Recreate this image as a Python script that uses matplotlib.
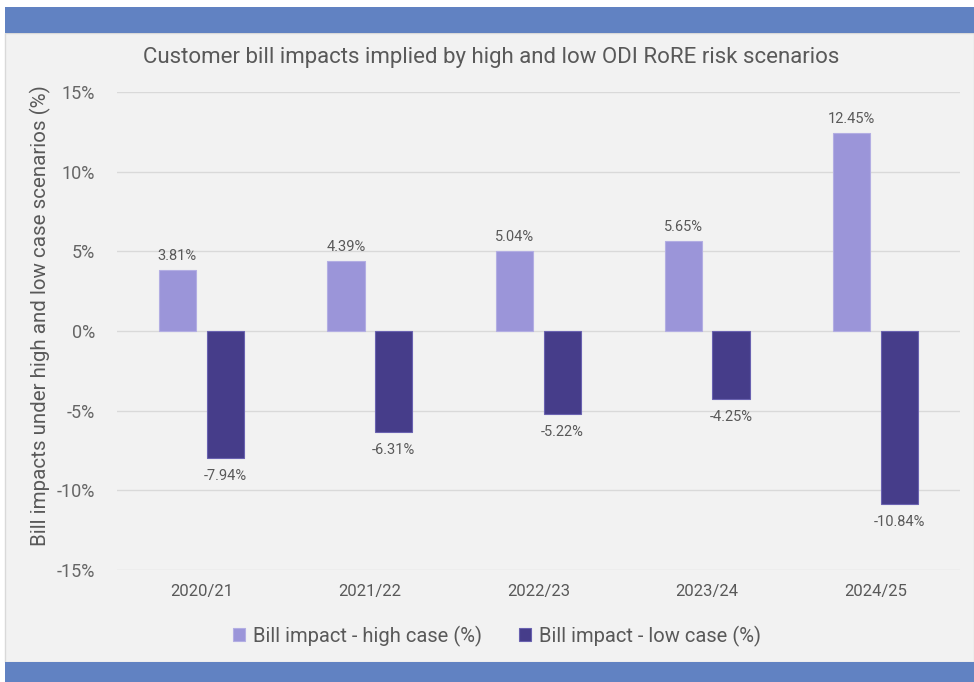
import matplotlib
matplotlib.use("Agg")
import matplotlib.pyplot as plt
from matplotlib.patches import Rectangle
import numpy as np

categories = ["2020/21", "2021/22", "2022/23", "2023/24", "2024/25"]
high_case = [3.81, 4.39, 5.04, 5.65, 12.45]
low_case = [-7.94, -6.31, -5.22, -4.25, -10.84]
yticks = [-15, -10, -5, 0, 5, 10, 15]

plt.rcParams['font.family'] = ['Roboto', 'DejaVu Sans']
W, H = 974, 682
fig = plt.figure(figsize=(W/100, H/100), dpi=100, facecolor='white')

def fx(px): return px / W
def fy(py): return 1 - py / H

# panel background
fig.patches.append(Rectangle((fx(5), fy(662)), fx(974) - fx(5), fy(33) - fy(662),
                             transform=fig.transFigure, facecolor='#f2f2f2',
                             edgecolor='#d9d9d9', linewidth=1, zorder=-2))
# top and bottom bands
band = '#6182c2'
fig.patches.append(Rectangle((fx(5), fy(33)), 1 - fx(5), fy(7) - fy(33),
                             transform=fig.transFigure, facecolor=band, edgecolor='none', zorder=-1))
fig.patches.append(Rectangle((fx(5), 0), 1 - fx(5), fy(662),
                             transform=fig.transFigure, facecolor=band, edgecolor='none', zorder=-1))

ax = fig.add_axes([fx(117), fy(570), fx(960) - fx(117), fy(92) - fy(570)])
ax.set_facecolor('none')
ax.set_zorder(2)

x = np.arange(len(categories))
w = 0.22
off = 0.142
hc = '#9b95d9'
lc = '#463d8a'
b1 = ax.bar(x - off, high_case, w, color=hc, edgecolor='#b3aee3', linewidth=0.8, label='Bill impact - high case (%)', zorder=3)
b2 = ax.bar(x + off, low_case, w, color=lc, edgecolor='#6a62b0', linewidth=0.8, label='Bill impact - low case (%)', zorder=3)

txt = '#595959'
for xi, v in zip(x - off, high_case):
    ax.annotate(f"{v:.2f}%", (xi, v), xytext=(0, 5), textcoords='offset points',
                ha='center', va='bottom', fontsize=10.5, color=txt)
for xi, v in zip(x + off, low_case):
    ax.annotate(f"{v:.2f}%", (xi, v), xytext=(0, -8), textcoords='offset points',
                ha='center', va='top', fontsize=10.5, color=txt)

ax.set_xlim(-0.5, len(categories) - 0.5)
ax.set_ylim(-15, 15)
ax.set_yticks(yticks)
ax.set_yticklabels([f"{t}%" for t in yticks], fontsize=13, color='#666666')
ax.set_xticks(x)
ax.set_xticklabels(categories, fontsize=12, color=txt)
ax.tick_params(axis='both', length=0)
ax.tick_params(axis='y', pad=16)
ax.tick_params(axis='x', pad=10)
ax.grid(axis='y', color='#d9d9d9', linewidth=1, zorder=0)
ax.set_axisbelow(True)
for s in ax.spines.values():
    s.set_visible(False)

fig.text(fx(40), fy(316), "Bill impacts under high and low case scenarios (%)", rotation=90,
         ha='center', va='center', fontsize=14.8, color=txt)
fig.text(fx(491), fy(58), "Customer bill impacts implied by high and low ODI RoRE risk scenarios",
         ha='center', va='center', fontsize=16, color=txt)

leg = fig.legend(handles=[b1, b2], loc='center', bbox_to_anchor=(fx(497), fy(636)), ncol=2,
                 frameon=False, fontsize=14.5, labelcolor=txt, handlelength=0.6, handleheight=0.6,
                 handletextpad=0.4, columnspacing=1.8)

fig.savefig("out.png", dpi=100, facecolor='white')
